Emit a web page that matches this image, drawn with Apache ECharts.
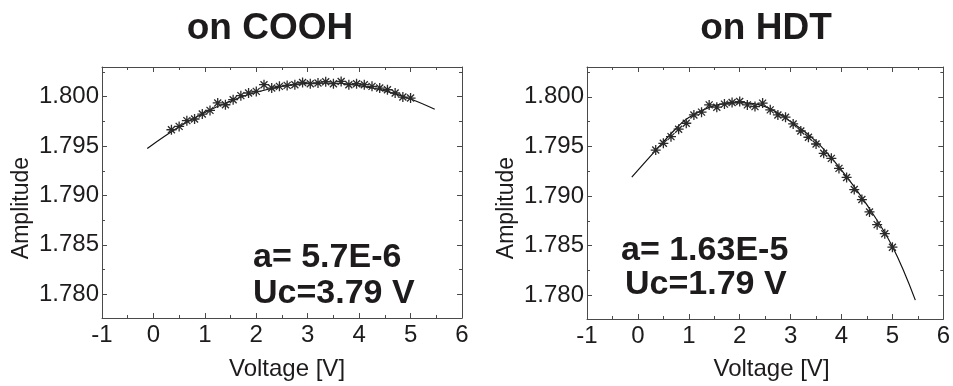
<!DOCTYPE html>
<html>
<head>
<meta charset="utf-8">
<script src="https://cdn.jsdelivr.net/npm/echarts@6/dist/echarts.min.js"></script>
<style>
  html, body { margin: 0; padding: 0; background: #fff; }
  #chart { width: 953px; height: 386px; }
</style>
</head>
<body>
<div id="chart"></div>
<script>
// measured voltages (same sweep for both samples)
const voltage = [0.35, 0.50, 0.65, 0.80, 0.95, 1.10, 1.25, 1.40, 1.55, 1.70, 1.85, 2.00,
  2.15, 2.30, 2.45, 2.60, 2.75, 2.90, 3.05, 3.20, 3.35, 3.50, 3.65, 3.80, 3.95, 4.10,
  4.25, 4.40, 4.55, 4.70, 4.85, 5.00];

// on COOH
const ampCOOH = [1.79665, 1.79699, 1.79757, 1.79774, 1.79824, 1.79861, 1.79936, 1.79918,
  1.79969, 1.80010, 1.80037, 1.80053, 1.80121, 1.80087, 1.80104, 1.80114, 1.80121, 1.80144,
  1.80131, 1.80138, 1.80151, 1.80131, 1.80154, 1.80121, 1.80131, 1.80121, 1.80104, 1.80087,
  1.80070, 1.80037, 1.79996, 1.79986];
const fitXCOOH = [-0.12, 0.5, 1.0, 1.5, 2.0, 2.5, 3.0, 3.5, 4.0, 4.5, 5.0, 5.47];
const fitYCOOH = [1.79476, 1.79695, 1.79840, 1.79956, 1.80044, 1.80104, 1.80135, 1.80138,
  1.80112, 1.80058, 1.79976, 1.79872];

// on HDT
const ampHDT = [1.79463, 1.79531, 1.79598, 1.79673, 1.79733, 1.79817, 1.79845, 1.79918,
  1.79895, 1.79926, 1.79942, 1.79952, 1.79918, 1.79901, 1.79936, 1.79868, 1.79817, 1.79794,
  1.79726, 1.79655, 1.79592, 1.79524, 1.79430, 1.79379, 1.79278, 1.79187, 1.79065, 1.78964,
  1.78839, 1.78711, 1.78620, 1.78484];
const fitXHDT = [-0.12, 0.35, 0.75, 1.0, 1.5, 2.0, 2.5, 3.0, 3.5, 4.0, 4.5, 5.0, 5.45];
const fitYHDT = [1.7919, 1.7946, 1.7968, 1.7979, 1.7991, 1.7994, 1.7990, 1.7975, 1.7955,
  1.7926, 1.7891, 1.7849, 1.7795];

const xRange = [-1, 6];
const yRange = [1.7776, 1.8030];
const titles = ['on COOH', 'on HDT'];
const notes = [['a= 5.7E-6', 'Uc=3.79 V'], ['a= 1.63E-5', 'Uc=1.79 V']];

const FONT = '"Liberation Sans", Arial, sans-serif';
const TXT = '#1e1b1c';
const AX = '#4a4a4a';
const star = 'path://M5,0L5,10M0,5L10,5M1.5,1.5L8.5,8.5M8.5,1.5L1.5,8.5';

function zip(xs, ys) {
  return xs.map((x, i) => [x, ys[i]]);
}

function xAx(grid, pos) {
  return {
    type: 'value', gridIndex: grid, position: pos,
    min: xRange[0], max: xRange[1], interval: 1,
    axisLine: { show: true, onZero: false, lineStyle: { color: AX, width: 1 } },
    axisTick: { show: true, inside: true, length: 5, lineStyle: { color: AX } },
    minorTick: { show: true, splitNumber: 2, length: 3, lineStyle: { color: AX } },
    splitLine: { show: false },
    axisLabel: {
      show: pos === 'bottom', margin: 5, color: TXT,
      fontFamily: FONT, fontSize: 24
    }
  };
}

function yAx(grid, pos) {
  return {
    type: 'value', gridIndex: grid, position: pos,
    min: yRange[0], max: yRange[1], splitNumber: 5,
    axisLine: { show: true, onZero: false, lineStyle: { color: AX, width: 1 } },
    axisTick: { show: true, inside: true, length: 5, lineStyle: { color: AX } },
    minorTick: { show: true, splitNumber: 2, length: 3, lineStyle: { color: AX } },
    splitLine: { show: false },
    axisLabel: {
      show: pos === 'left', margin: 3, color: TXT,
      fontFamily: FONT, fontSize: 24,
      showMinLabel: false, showMaxLabel: false,
      formatter: v => v.toFixed(3)
    }
  };
}

const grids = [
  { left: 102, top: 67, width: 360, height: 251 },
  { left: 587, top: 67, width: 359, height: 252 }
];

function panelText(i) {
  const g = grids[i];
  const cx = i === 0 ? 270 : 766;
  const noteX = i === 0 ? [253, 253] : [621, 625];
  const noteY = i === 0 ? [258, 294] : [251, 285];
  return [
    { type: 'text', style: { x: cx, y: 29, text: titles[i], font: 'bold 37px ' + FONT, fill: TXT, textAlign: 'center', textVerticalAlign: 'middle' } },
    { type: 'text', style: { x: noteX[0], y: noteY[0], text: notes[i][0], font: 'bold 34px ' + FONT, fill: TXT, textAlign: 'left', textVerticalAlign: 'middle' } },
    { type: 'text', style: { x: noteX[1], y: noteY[1], text: notes[i][1], font: 'bold 34px ' + FONT, fill: TXT, textAlign: 'left', textVerticalAlign: 'middle' } },
    { type: 'text', x: g.left - 80, y: 208, rotation: Math.PI / 2, style: { x: 0, y: 0, text: 'Amplitude', font: '23px ' + FONT, fill: TXT, textAlign: 'center', textVerticalAlign: 'middle' } },
    { type: 'text', style: { x: g.left + g.width / 2 + 5, y: 369, text: 'Voltage [V]', font: '24px ' + FONT, fill: TXT, textAlign: 'center', textVerticalAlign: 'middle' } }
  ];
}

function fitSeries(x, y, xi, yi) {
  return {
    type: 'line', xAxisIndex: xi, yAxisIndex: yi,
    data: zip(x, y), smooth: 0.4, showSymbol: false, silent: true,
    lineStyle: { color: '#111', width: 1.2 }, z: 3
  };
}

function dataSeries(y, xi, yi) {
  return {
    type: 'scatter', xAxisIndex: xi, yAxisIndex: yi,
    data: zip(voltage, y), symbol: star, symbolSize: 10,
    itemStyle: { color: 'transparent', borderColor: '#2a2a2a', borderWidth: 1.3, opacity: 1 },
    z: 4
  };
}

const option = {
  animation: false,
  backgroundColor: '#fff',
  grid: grids,
  xAxis: [xAx(0, 'bottom'), xAx(0, 'top'), xAx(1, 'bottom'), xAx(1, 'top')],
  yAxis: [yAx(0, 'left'), yAx(0, 'right'), yAx(1, 'left'), yAx(1, 'right')],
  graphic: panelText(0).concat(panelText(1)),
  series: [
    fitSeries(fitXCOOH, fitYCOOH, 0, 0),
    dataSeries(ampCOOH, 0, 0),
    fitSeries(fitXHDT, fitYHDT, 2, 2),
    dataSeries(ampHDT, 2, 2)
  ]
};

const chart = echarts.init(document.getElementById('chart'));
chart.setOption(option);

window.addEventListener('resize', function () {
  chart.resize();
}, false);
</script>
</body>
</html>
